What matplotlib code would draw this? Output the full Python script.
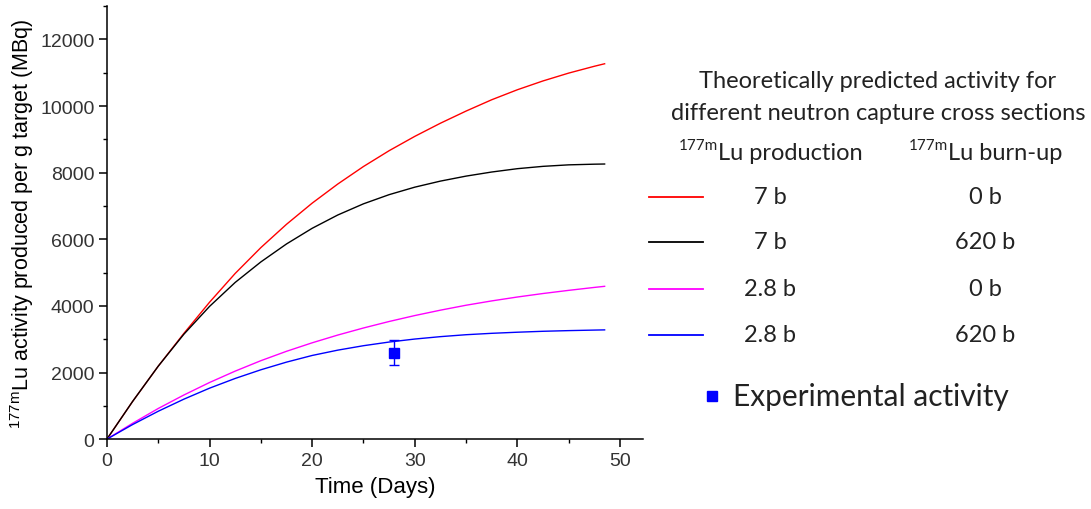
import matplotlib
matplotlib.use('Agg')
import matplotlib.pyplot as plt
from matplotlib.lines import Line2D
from matplotlib.ticker import MultipleLocator

# time grid (days) and activity curves (MBq per g target)
days = [0, 2.5, 5, 7.5, 10, 12.5, 15, 17.5, 20, 22.5, 25, 27.5, 30, 32.5,
        35, 37.5, 40, 42.5, 45, 47.5, 48.5]
prod7_burn0 = [0, 1130, 2190, 3175, 4110, 4975, 5750, 6450, 7085, 7660, 8185,
               8660, 9090, 9485, 9850, 10190, 10490, 10755, 10990, 11195, 11270]
prod7_burn620 = [0, 1130, 2190, 3150, 3985, 4705, 5320, 5860, 6330, 6730, 7065,
                 7340, 7565, 7747, 7897, 8020, 8120, 8190, 8235, 8255, 8260]
prod28_burn0 = [0, 475, 920, 1325, 1700, 2042, 2355, 2637, 2892, 3125, 3337,
                3532, 3710, 3872, 4020, 4150, 4267, 4372, 4467, 4555, 4588]
prod28_burn620 = [0, 437, 837, 1200, 1530, 1822, 2082, 2312, 2512, 2672, 2805,
                  2915, 3005, 3077, 3135, 3177, 3210, 3238, 3258, 3274, 3280]

exp_day = [28]
exp_activity = [2600]
exp_err = [380]

series = [prod7_burn0, prod7_burn620, prod28_burn0, prod28_burn620]
colors = ['#ff0000', '#000000', '#ff00ff', '#0000ff']
production_labels = ['7 b', '7 b', '2.8 b', '2.8 b']
burnup_labels = ['0 b', '620 b', '0 b', '620 b']

plt.rcParams['mathtext.fontset'] = 'custom'
plt.rcParams['mathtext.rm'] = 'Liberation Sans'
plt.rcParams['mathtext.it'] = 'Liberation Sans:italic'

fig = plt.figure(figsize=(10.91, 5.10), dpi=100)
ax = fig.add_axes([0.098, 0.137, 0.491, 0.849])

for vals, c in zip(series, colors):
    ax.plot(days, vals, color=c, linewidth=1.0)

ax.errorbar(exp_day, exp_activity, yerr=exp_err, fmt='s', color='#0000ff',
            markersize=6.5, capsize=3.5, elinewidth=1.0, capthick=1.0)

ax.set_xlim(0, 52.2)
ax.set_ylim(0, 13000)
ax.xaxis.set_major_locator(MultipleLocator(10))
ax.xaxis.set_minor_locator(MultipleLocator(5))
ax.yaxis.set_major_locator(MultipleLocator(2000))
ax.yaxis.set_minor_locator(MultipleLocator(1000))
ax.spines['top'].set_visible(False)
ax.spines['right'].set_visible(False)
for s in ['left', 'bottom']:
    ax.spines[s].set_linewidth(1.1)
ax.tick_params(which='major', direction='out', length=5.5, width=1.1,
               labelsize=14, labelcolor='#333333')
ax.tick_params(which='minor', direction='out', length=3, width=1.0)
for lab in ax.get_xticklabels() + ax.get_yticklabels():
    lab.set_fontfamily('Liberation Sans')

ax.set_xlabel('Time (Days)', fontsize=16, family='Liberation Sans', labelpad=5)
ax.set_ylabel(r'$\mathregular{^{177m}}$Lu activity produced per g target (MBq)',
              fontsize=15.5, family='Liberation Sans', labelpad=3)

# custom legend on the right
lfont = 'Lato'
lcol = '#222222'
W, H = 1091.0, 510.0

def fx(px):
    return px / W

def fy(py):
    return 1 - py / H

fig.text(fx(878), fy(82), 'Theoretically predicted activity for', ha='center', va='center',
         fontsize=17, family=lfont, color=lcol)
fig.text(fx(878), fy(113), 'different neutron capture cross sections', ha='center', va='center',
         fontsize=17, family=lfont, color=lcol)

for x0, txt in [(718, 'Lu production'), (948, 'Lu burn-up')]:
    fig.text(fx(x0), fy(154), txt, ha='left', va='center',
             fontsize=17, family=lfont, color=lcol)
    fig.text(fx(x0), fy(146), '177m', ha='right', va='center',
             fontsize=11, family=lfont, color=lcol)

row_y = [198, 243, 290, 336]
for yy, c, p, b in zip(row_y, colors, production_labels, burnup_labels):
    fig.add_artist(Line2D([fx(649), fx(703)], [fy(yy), fy(yy)], color=c, linewidth=1.3))
    fig.text(fx(770), fy(yy), p, ha='center', va='center', fontsize=17, family=lfont, color=lcol)
    fig.text(fx(985), fy(yy), b, ha='center', va='center', fontsize=17, family=lfont, color=lcol)

fig.add_artist(Line2D([fx(712)], [fy(397)], marker='s', markersize=7.5, color='#0000ff',
                      linestyle='none'))
fig.text(fx(733), fy(397), 'Experimental activity', ha='left', va='center',
         fontsize=21.5, family=lfont, color=lcol)

fig.savefig('out.png', dpi=100)
